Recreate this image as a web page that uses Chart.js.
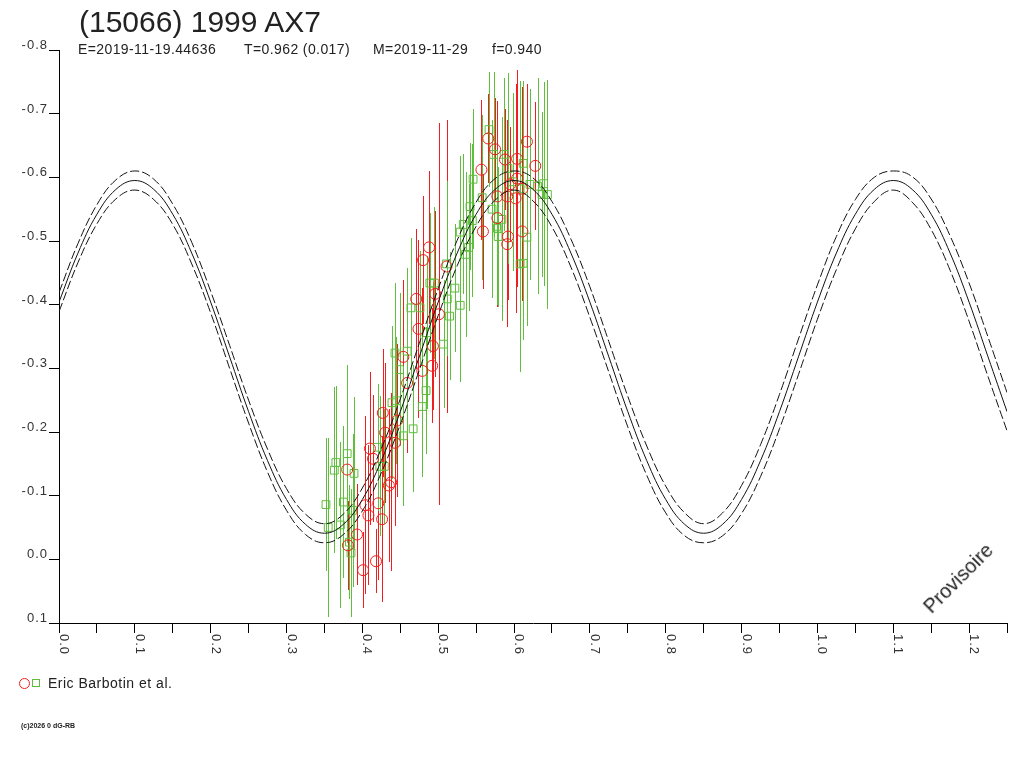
<!DOCTYPE html>
<html>
<head>
<meta charset="utf-8">
<title>(15066) 1999 AX7</title>
<script src="https://cdn.jsdelivr.net/npm/chart.js@4.4.1/dist/chart.umd.min.js"></script>
<style>
  body { margin: 0; background: #fff; }
  #wrap { position: relative; width: 1024px; height: 768px; font-family: "Liberation Sans", Arial, sans-serif; color: #222; }
  #canvas { position: absolute; left: 0; top: 0; }
  .txt { position: absolute; white-space: pre; line-height: 1; }
  #title { left: 79px; top: 7px; font-size: 30px; }
  .sub { top: 42px; font-size: 14px; letter-spacing: 0.4px; }
  #legend { left: 48px; top: 676px; font-size: 14px; letter-spacing: 0.5px; }
  #copy { left: 21px; top: 722px; font-size: 7px; font-weight: bold; }
  #prov { left: 958px; top: 578px; font-size: 20px; transform: translate(-50%, -50%) rotate(-45deg); }
  .mk { position: absolute; box-sizing: border-box; }
</style>
</head>
<body>
<div id="wrap">
  <canvas id="canvas" width="1024" height="768"></canvas>
  <div class="txt" id="title">(15066) 1999 AX7</div>
  <div class="txt sub" style="left:78px">E=2019-11-19.44636</div>
  <div class="txt sub" style="left:244px">T=0.962 (0.017)</div>
  <div class="txt sub" style="left:373px">M=2019-11-29</div>
  <div class="txt sub" style="left:492px">f=0.940</div>
  <div class="mk" style="left:19px;top:678px;width:11px;height:11px;border:1px solid rgb(240,30,30);border-radius:50%"></div>
  <div class="mk" style="left:32px;top:679px;width:8px;height:8px;border:1px solid rgb(95,190,60)"></div>
  <div class="txt" id="legend">Eric Barbotin et al.</div>
  <div class="txt" id="copy">(c)2026 0 dG-RB</div>
  <div class="txt" id="prov">Provisoire</div>
</div>
<script>
// fitted lightcurve, every 0.025 in phase
var curvePhase = [0, 0.025, 0.05, 0.075, 0.1, 0.125, 0.15, 0.175, 0.2, 0.225,
  0.25, 0.275, 0.3, 0.325, 0.35, 0.375, 0.4, 0.425, 0.45, 0.475,
  0.5, 0.525, 0.55, 0.575, 0.6, 0.625, 0.65, 0.675, 0.7, 0.725,
  0.75, 0.775, 0.8, 0.825, 0.85, 0.875, 0.9, 0.925, 0.95, 0.975,
  1.0, 1.025, 1.05, 1.075, 1.1, 1.125, 1.15, 1.175, 1.2, 1.225, 1.25];
var fitMag = [-0.404, -0.481, -0.542, -0.581, -0.595, -0.581, -0.542, -0.481, -0.404, -0.318,
  -0.232, -0.155, -0.094, -0.055, -0.041, -0.055, -0.094, -0.155, -0.232, -0.318,
  -0.404, -0.481, -0.542, -0.581, -0.595, -0.581, -0.542, -0.481, -0.404, -0.318,
  -0.232, -0.155, -0.094, -0.055, -0.041, -0.055, -0.094, -0.155, -0.232, -0.318,
  -0.404, -0.481, -0.542, -0.581, -0.595, -0.581, -0.542, -0.481, -0.404, -0.318, -0.232];
var fitUpper = [-0.419, -0.496, -0.557, -0.596, -0.610, -0.597, -0.558, -0.498, -0.421, -0.336,
  -0.250, -0.173, -0.111, -0.071, -0.056, -0.071, -0.112, -0.174, -0.252, -0.339,
  -0.425, -0.501, -0.561, -0.598, -0.610, -0.599, -0.562, -0.503, -0.428, -0.342,
  -0.256, -0.178, -0.115, -0.073, -0.056, -0.073, -0.116, -0.180, -0.259, -0.346,
  -0.431, -0.507, -0.565, -0.600, -0.610, -0.601, -0.566, -0.508, -0.434, -0.349, -0.262];
var fitLower = [-0.389, -0.466, -0.527, -0.566, -0.580, -0.565, -0.526, -0.464, -0.387, -0.300,
  -0.214, -0.137, -0.077, -0.039, -0.026, -0.039, -0.076, -0.136, -0.212, -0.297,
  -0.383, -0.461, -0.523, -0.564, -0.580, -0.563, -0.522, -0.459, -0.380, -0.294,
  -0.208, -0.132, -0.073, -0.037, -0.026, -0.037, -0.072, -0.130, -0.205, -0.290,
  -0.377, -0.455, -0.519, -0.562, -0.580, -0.561, -0.518, -0.454, -0.374, -0.287, -0.202];

// observations, red circles
var redPhase = [0.380, 0.410, 0.414, 0.404, 0.408, 0.421, 0.426, 0.393, 0.381, 0.401,
  0.418, 0.438, 0.435, 0.430, 0.427, 0.443, 0.446, 0.488, 0.480, 0.496,
  0.471, 0.501, 0.454, 0.474, 0.493, 0.492, 0.459, 0.479, 0.511, 0.559,
  0.566, 0.575, 0.557, 0.617, 0.604, 0.628, 0.588, 0.578, 0.591, 0.602,
  0.611, 0.592, 0.591, 0.611, 0.578, 0.604, 0.595];
var redMag = [-0.141, -0.174, -0.158, -0.085, -0.069, -0.088, -0.063, -0.039, -0.022, 0.017,
  0.003, -0.121, -0.116, -0.199, -0.230, -0.183, -0.218, -0.490, -0.470, -0.417,
  -0.409, -0.385, -0.318, -0.362, -0.335, -0.304, -0.277, -0.296, -0.460, -0.515,
  -0.661, -0.644, -0.612, -0.656, -0.629, -0.618, -0.628, -0.570, -0.570, -0.567,
  -0.582, -0.507, -0.495, -0.515, -0.536, -0.598, -0.589];
var redErr = [0.09, 0.12, 0.10, 0.14, 0.11, 0.12, 0.13, 0.08, 0.07, 0.06,
  0.05, 0.14, 0.12, 0.11, 0.10, 0.13, 0.12, 0.12, 0.10, 0.13,
  0.11, 0.30, 0.12, 0.14, 0.10, 0.09, 0.11, 0.13, 0.23, 0.09,
  0.07, 0.08, 0.11, 0.09, 0.12, 0.10, 0.08, 0.15, 0.12, 0.18,
  0.16, 0.10, 0.13, 0.11, 0.14, 0.17, 0.09];

// observations, green squares
var greenPhase = [0.352, 0.355, 0.363, 0.365, 0.380, 0.375, 0.371, 0.389, 0.383, 0.385,
  0.387, 0.439, 0.445, 0.423, 0.429, 0.420, 0.454, 0.467, 0.529, 0.540,
  0.511, 0.489, 0.495, 0.522, 0.512, 0.529, 0.515, 0.464, 0.476, 0.485,
  0.507, 0.443, 0.459, 0.449, 0.484, 0.479, 0.571, 0.577, 0.567, 0.573,
  0.587, 0.612, 0.546, 0.558, 0.592, 0.598, 0.584, 0.578, 0.608, 0.621,
  0.639, 0.637, 0.644, 0.545, 0.533, 0.536, 0.608, 0.612, 0.617, 0.579,
  0.631, 0.542];
var greenMag = [-0.086, -0.050, -0.140, -0.152, -0.166, -0.090, -0.054, -0.135, -0.027, -0.010,
  -0.077, -0.246, -0.249, -0.146, -0.146, -0.176, -0.194, -0.205, -0.514, -0.490,
  -0.464, -0.434, -0.434, -0.426, -0.409, -0.399, -0.382, -0.395, -0.395, -0.356,
  -0.338, -0.324, -0.327, -0.298, -0.265, -0.240, -0.550, -0.523, -0.675, -0.636,
  -0.636, -0.622, -0.597, -0.568, -0.614, -0.593, -0.534, -0.520, -0.582, -0.589,
  -0.590, -0.573, -0.573, -0.532, -0.526, -0.479, -0.464, -0.465, -0.506, -0.507,
  -0.586, -0.554];
var greenErr = [0.105, 0.14, 0.13, 0.12, 0.14, 0.12, 0.13, 0.12, 0.09, 0.10,
  0.12, 0.12, 0.10, 0.11, 0.09, 0.10, 0.11, 0.10, 0.12, 0.10,
  0.13, 0.11, 0.12, 0.10, 0.09, 0.12, 0.10, 0.11, 0.09, 0.12,
  0.10, 0.11, 0.13, 0.12, 0.10, 0.11, 0.14, 0.12, 0.09, 0.13,
  0.12, 0.13, 0.11, 0.13, 0.15, 0.14, 0.16, 0.12, 0.17, 0.15,
  0.16, 0.13, 0.18, 0.12, 0.11, 0.13, 0.17, 0.12, 0.14, 0.11,
  0.17, 0.10];

var xLabels = [0.0, 0.1, 0.2, 0.3, 0.4, 0.5, 0.6, 0.7, 0.8, 0.9, 1.0, 1.1, 1.2];
var yLabels = [-0.8, -0.7, -0.6, -0.5, -0.4, -0.3, -0.2, -0.1, 0.0, 0.1];

var RED = 'rgb(240,30,30)';
var GREEN = 'rgb(95,190,60)';

function pairs(xs, ys) {
    return xs.map(function (x, i) { return {x: x, y: ys[i]}; });
}

// vertical error bars under the markers
var errorBars = {
    id: 'errorBars',
    beforeDatasetsDraw: function (chart) {
        var ctx = chart.ctx, xs = chart.scales.x, ys = chart.scales.y, area = chart.chartArea;
        ctx.save();
        ctx.beginPath();
        ctx.rect(area.left, area.top, area.right - area.left, area.bottom - area.top);
        ctx.clip();
        ctx.lineWidth = 1;
        chart.data.datasets.forEach(function (ds) {
            if (!ds.err) return;
            ctx.strokeStyle = ds.borderColor;
            ds.data.forEach(function (p, i) {
                var px = Math.round(xs.getPixelForValue(p.x)) + 0.5;
                ctx.beginPath();
                ctx.moveTo(px, Math.round(ys.getPixelForValue(p.y - ds.err[i])));
                ctx.lineTo(px, Math.round(ys.getPixelForValue(p.y + ds.err[i])));
                ctx.stroke();
            });
        });
        ctx.restore();
    }
};

// tick labels: y plain, x turned a quarter clockwise
var axisLabels = {
    id: 'axisLabels',
    afterDraw: function (chart) {
        var ctx = chart.ctx, xs = chart.scales.x, ys = chart.scales.y;
        ctx.save();
        ctx.fillStyle = '#333';
        ctx.font = '13px "Liberation Sans", Arial, sans-serif';
        ctx.letterSpacing = '1px';
        ctx.textBaseline = 'alphabetic';
        ctx.textAlign = 'right';
        yLabels.forEach(function (v) {
            ctx.fillText(v.toFixed(1), 48, ys.getPixelForValue(v) - 1);
        });
        ctx.textAlign = 'left';
        xLabels.forEach(function (v) {
            ctx.save();
            ctx.translate(xs.getPixelForValue(v) + 1, 634);
            ctx.rotate(Math.PI / 2);
            ctx.fillText(v.toFixed(1), 0, 0);
            ctx.restore();
        });
        ctx.restore();
    }
};

var context = document.getElementById('canvas').getContext('2d');
var lightcurve = new Chart(context, {
    type: 'scatter',
    data: {
        datasets: [
            {
                data: pairs(curvePhase, fitMag),
                showLine: true, borderColor: '#111', borderWidth: 1,
                pointRadius: 0, tension: 0.4
            }, {
                data: pairs(curvePhase, fitUpper),
                showLine: true, borderColor: '#111', borderWidth: 1, borderDash: [9, 3],
                pointRadius: 0, tension: 0.4
            }, {
                data: pairs(curvePhase, fitLower),
                showLine: true, borderColor: '#111', borderWidth: 1, borderDash: [9, 3],
                pointRadius: 0, tension: 0.4
            }, {
                data: pairs(redPhase, redMag), err: redErr,
                borderColor: RED, backgroundColor: 'rgba(0,0,0,0)',
                pointStyle: 'circle', pointRadius: 5.5, borderWidth: 1
            }, {
                data: pairs(greenPhase, greenMag), err: greenErr,
                borderColor: GREEN, backgroundColor: 'rgba(0,0,0,0)',
                pointStyle: 'rect', pointRadius: 5.5, borderWidth: 1
            }
        ]
    },
    options: {
        responsive: false,
        animation: false,
        events: [],
        layout: { padding: { left: 0, top: 50, right: 17, bottom: 0 } },
        plugins: { legend: { display: false }, tooltip: { enabled: false } },
        scales: {
            x: {
                type: 'linear', min: 0, max: 1.25,
                ticks: { stepSize: 0.05, display: false },
                grid: { drawOnChartArea: false, color: '#000', tickLength: 10 },
                border: { color: '#000' },
                afterFit: function (scale) { scale.height = 145; }
            },
            y: {
                type: 'linear', min: -0.8, max: 0.1, reverse: true,
                ticks: { stepSize: 0.1, display: false },
                grid: { drawOnChartArea: false, color: '#000', tickLength: 10 },
                border: { color: '#000' },
                afterFit: function (scale) { scale.width = 59; }
            }
        }
    },
    plugins: [errorBars, axisLabels]
});
</script>
</body>
</html>
